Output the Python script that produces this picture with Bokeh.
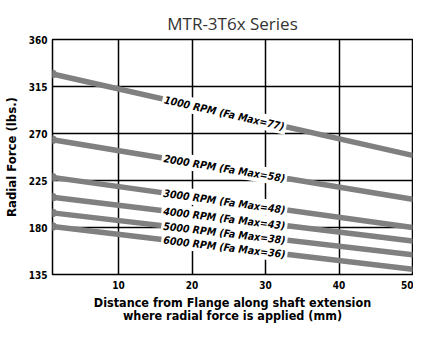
import math
from bokeh.plotting import figure
from bokeh.models import ColumnDataSource, FixedTicker, Range1d
from bokeh.core.properties import value
from bokeh.embed import file_html
from bokeh.resources import INLINE

# ---- data ----
rpm_labels = ["1000 RPM (Fa Max=77)", "2000 RPM (Fa Max=58)", "3000 RPM (Fa Max=48)",
              "4000 RPM (Fa Max=43)", "5000 RPM (Fa Max=38)", "6000 RPM (Fa Max=36)"]
x_start = 1
x_end = 50
force_start = [327, 264, 228, 209, 194, 181]
force_end = [249, 207, 180, 167, 154, 140]
x_ticks = [10, 20, 30, 40, 50]
y_ticks = [135, 180, 225, 270, 315, 360]

COND = "'DejaVu Sans Condensed', 'Liberation Sans', sans-serif"

# ---- layout ----
W, H = 413, 325
ML, MR, MT, MB = 46, 1, 39, 46
Y0, Y1 = 135, 360
label_x = 24.4

p = figure(width=W, height=H, output_backend="svg", toolbar_location=None,
           x_range=Range1d(x_start, x_end), y_range=Range1d(Y0, Y1),
           min_border_left=ML, min_border_right=MR, min_border_top=MT, min_border_bottom=MB,
           title="MTR-3T6x Series")
p.title.align = "center"
p.title.text_font = "Open Sans"
p.title.text_font_size = "17px"
p.title.text_font_style = "normal"
p.title.text_color = "#333333"
p.title.standoff = 10

p.outline_line_color = "black"
p.outline_line_width = 1.5
p.background_fill_color = "white"
p.border_fill_color = "white"

for g in (p.xgrid, p.ygrid):
    g.grid_line_color = "black"
    g.grid_line_width = 1.5
p.xgrid.ticker = FixedTicker(ticks=x_ticks)
p.ygrid.ticker = FixedTicker(ticks=y_ticks)
p.xaxis.ticker = FixedTicker(ticks=x_ticks)
p.yaxis.ticker = FixedTicker(ticks=y_ticks)

for ax in (p.xaxis[0], p.yaxis[0]):
    ax.axis_line_color = None
    ax.major_tick_line_color = None
    ax.minor_tick_line_color = None
    ax.major_tick_in = 0
    ax.major_tick_out = 0
    ax.major_label_text_font = COND
    ax.major_label_text_font_style = "bold"
    ax.major_label_text_font_size = "10px"
    ax.major_label_text_color = "black"
    ax.axis_label_text_color = "black"
    ax.axis_label_text_font_style = "bold"

p.xaxis.major_label_standoff = 6
p.yaxis.major_label_standoff = 5
p.xaxis.axis_label = "Distance from Flange along shaft extension\nwhere radial force is applied (mm)"
p.xaxis.axis_label_text_font = COND
p.xaxis.axis_label_text_font_size = "12.5px"
p.xaxis.axis_label_text_line_height = 0.88
p.xaxis.axis_label_standoff = 3
p.yaxis.axis_label = "Radial Force (lbs.)"
p.yaxis.axis_label_text_font = COND
p.yaxis.axis_label_text_font_size = "13px"
p.yaxis.axis_label_standoff = 7

# approximate frame size (used only to orient the curve labels along the lines)
FW, FH = 359, 235
kx = FW / (x_end - x_start)
ky = FH / (Y1 - Y0)

lx, ly, ang = [], [], []
for s, e in zip(force_start, force_end):
    p.line([x_start, x_end], [s, e], line_color="#808080", line_width=5.5, line_cap="round")
    t = (label_x - x_start) / (x_end - x_start)
    lx.append(label_x)
    ly.append(s + (e - s) * t)
    ang.append(math.atan2((e - s) * ky, (x_end - x_start) * kx))

p.scatter(x=[x_start] * len(force_start), y=force_start, size=8, color="#808080")

src = ColumnDataSource(dict(x=lx, y=ly, text=rpm_labels, angle=ang))
p.text(x="x", y="y", text="text", angle="angle", source=src,
       text_font=value(COND), text_font_style="bold italic",
       text_font_size="10.5px", text_align="center", text_baseline="middle",
       text_color="black", background_fill_color="white", padding=2)

open("out.html", "w").write(file_html(p, INLINE))
